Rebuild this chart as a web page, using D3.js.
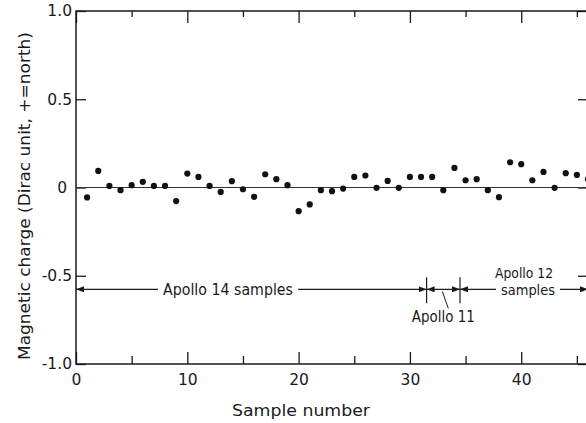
<!DOCTYPE html>
<html lang="en">
<head>
<meta charset="UTF-8" />
<title>Magnetic charge of lunar samples</title>
<style>
  body { margin: 0; background: #fff; }
  svg { display: block; font-family: "DejaVu Sans", sans-serif; }
</style>
</head>
<body>
<script src="https://cdn.jsdelivr.net/npm/d3@7"></script>
<div id="app"></div>
<script>
// DATA
const samples = [1, 2, 3, 4, 5, 6, 7, 8, 9, 10, 11, 12, 13, 14, 15, 16, 17, 18, 19, 20, 21, 22, 23,
  24, 25, 26, 27, 28, 29, 30, 31, 32, 33, 34, 35, 36, 37, 38, 39, 40, 41, 42, 43, 44, 45, 46];
const charge = [-0.056, 0.094, 0.009, -0.015, 0.013, 0.032, 0.009, 0.009, -0.077, 0.079,
  0.060, 0.009, -0.025, 0.036, -0.010, -0.053, 0.075, 0.047, 0.013, -0.134,
  -0.096, -0.015, -0.021, -0.006, 0.060, 0.068, -0.002, 0.037, -0.002, 0.060,
  0.060, 0.060, -0.015, 0.111, 0.041, 0.047, -0.015, -0.055, 0.143, 0.132,
  0.041, 0.088, -0.002, 0.081, 0.071, 0.047];
const xMajorTicks = [0, 10, 20, 30, 40];
const xMinorTicks = [5, 15, 25, 35, 45];
const yTicks = [-1, -0.5, 0, 0.5, 1];
const yTickLabels = ["-1.0", "-0.5", "0", "0.5", "1.0"];
const groupNames = ["Apollo 14 samples", "Apollo 11", "Apollo 12 samples"];
const groupStart = [0, 31.5, 34.5];
const groupEnd = [31.5, 34.5, 46];
const arrowLevel = -0.577;

// SVG
const w = 586, h = 423;
const svg = d3.select("#app").append("svg").attr("width", w).attr("height", h);

const x = d3.scaleLinear().domain([0, 46]).range([76, 588]);
const y = d3.scaleLinear().domain([-1, 1]).range([364, 11]);

const ink = "#1a1a1a";

// marker
svg.append("defs").append("marker")
  .attr("id", "arrow")
  .attr("markerUnits", "userSpaceOnUse")
  .attr("markerWidth", 8).attr("markerHeight", 6)
  .attr("refX", 8).attr("refY", 3)
  .attr("orient", "auto-start-reverse")
  .append("path").attr("d", "M0,0 L8,3 L0,6 z").attr("fill", ink);

// AXES
function styleAxis(g) {
  g.select(".domain").remove();
  g.selectAll("line").attr("stroke", ink).attr("stroke-width", 1.3);
  g.selectAll("text").attr("fill", ink).style("font-size", "15.5px")
    .style("font-family", "\"DejaVu Sans\", sans-serif");
}

svg.append("g").attr("transform", "translate(0," + y(-1) + ")")
  .call(d3.axisBottom(x).tickValues(xMajorTicks).tickSizeInner(-12).tickSizeOuter(0).tickPadding(10))
  .call(styleAxis);
svg.append("g").attr("transform", "translate(0," + y(-1) + ")")
  .call(d3.axisBottom(x).tickValues(xMinorTicks).tickSizeInner(-8).tickSizeOuter(0).tickFormat(""))
  .call(styleAxis);
svg.append("g").attr("transform", "translate(0," + y(1) + ")")
  .call(d3.axisTop(x).tickValues(xMajorTicks).tickSizeInner(-12).tickSizeOuter(0).tickFormat(""))
  .call(styleAxis);
svg.append("g").attr("transform", "translate(0," + y(1) + ")")
  .call(d3.axisTop(x).tickValues(xMinorTicks).tickSizeInner(-6).tickSizeOuter(0).tickFormat(""))
  .call(styleAxis);

const yAxisG = svg.append("g").attr("transform", "translate(" + x(0) + ",0)")
  .call(d3.axisLeft(y).tickValues(yTicks).tickSizeInner(-10).tickSizeOuter(0).tickPadding(4)
    .tickFormat((d, i) => yTickLabels[i]))
  .call(styleAxis);
yAxisG.selectAll("text").filter(d => d === 0).attr("dx", "-5");

svg.append("g").attr("transform", "translate(" + x(46) + ",0)")
  .call(d3.axisRight(y).tickValues(yTicks).tickSizeInner(-10).tickSizeOuter(0).tickFormat(""))
  .call(styleAxis);

// frame
svg.append("rect")
  .attr("x", x(0)).attr("y", y(1))
  .attr("width", x(46) - x(0)).attr("height", y(-1) - y(1))
  .attr("fill", "none").attr("stroke", ink).attr("stroke-width", 1.5);

// zero line
svg.append("line")
  .attr("x1", x(0)).attr("x2", x(46)).attr("y1", y(0)).attr("y2", y(0))
  .attr("stroke", "#333").attr("stroke-width", 1.2);

// POINTS
svg.selectAll("circle.pt")
  .data(samples)
  .enter()
  .append("circle")
  .attr("class", "pt")
  .attr("cx", d => x(d))
  .attr("cy", (d, i) => y(charge[i]))
  .attr("r", 3.1)
  .attr("fill", "#111");

// GROUP ARROWS
const ay = y(arrowLevel);
groupNames.forEach((name, i) => {
  svg.append("line")
    .attr("x1", x(groupStart[i])).attr("x2", x(groupEnd[i]))
    .attr("y1", ay).attr("y2", ay)
    .attr("stroke", ink).attr("stroke-width", 1.1)
    .attr("marker-start", "url(#arrow)").attr("marker-end", "url(#arrow)");
});

// boundaries
[groupStart[1], groupStart[2]].forEach(b => {
  svg.append("line")
    .attr("x1", x(b)).attr("x2", x(b))
    .attr("y1", ay - 12).attr("y2", ay + 14)
    .attr("stroke", ink).attr("stroke-width", 1.2);
});

function label(txt, cx, by, len, size) {
  return svg.append("text")
    .attr("x", cx).attr("y", by)
    .attr("text-anchor", "middle")
    .attr("fill", ink)
    .style("font-size", (size || 15) + "px")
    .attr("textLength", len).attr("lengthAdjust", "spacingAndGlyphs")
    .text(txt);
}
// white gap in the arrow line behind a label
function knockout(t) {
  const b = t.node().getBBox();
  svg.append("rect")
    .attr("x", b.x - 5).attr("y", ay - 3)
    .attr("width", b.width + 10).attr("height", 6)
    .attr("fill", "#fff");
  t.raise();
}

// Apollo 14
const t14 = label(groupNames[0], (163 + 293) / 2, ay + 5.5, 130);
knockout(t14);

// Apollo 11
const mid11 = x((groupStart[1] + groupEnd[1]) / 2);
svg.append("line")
  .attr("x1", mid11 - 1).attr("y1", ay + 2)
  .attr("x2", mid11 + 5).attr("y2", ay + 19)
  .attr("stroke", ink).attr("stroke-width", 1);
label(groupNames[1], mid11, ay + 33, 63);

// Apollo 12
const c12 = 526;
label("Apollo 12", c12 - 2, ay - 11.5, 58, 14);
const t12 = label("samples", c12 + 2, ay + 5.5, 54, 14);
knockout(t12);

// AXIS TITLES
svg.append("text")
  .attr("x", 301).attr("y", 416)
  .attr("text-anchor", "middle")
  .attr("fill", ink)
  .style("font-size", "16px")
  .attr("textLength", 138).attr("lengthAdjust", "spacingAndGlyphs")
  .text("Sample number");

svg.append("text")
  .attr("transform", "translate(30,196) rotate(-90)")
  .attr("text-anchor", "middle")
  .attr("fill", ink)
  .style("font-size", "15px")
  .attr("textLength", 328).attr("lengthAdjust", "spacingAndGlyphs")
  .text("Magnetic charge (Dirac unit, +=north)");
</script>
</body>
</html>
